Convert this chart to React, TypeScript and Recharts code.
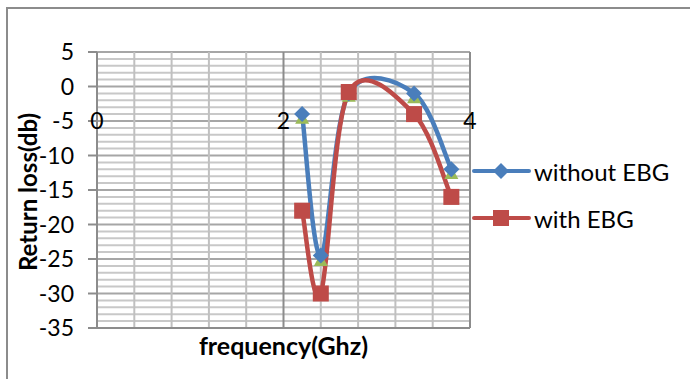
import React from 'react';
import { LineChart, Line, XAxis, YAxis, ReferenceLine, ReferenceDot, Legend } from 'recharts';

const frequency = [2.2, 2.4, 2.7, 3.4, 3.8];
const withoutEBG = [-4, -24.5, -1, -1, -12];
const withEBG = [-18, -30, -0.8, -4, -16];
const hiddenSeries = [-4.6, -25.2, -1.4, -1.6, -12.6];

const yTicks = [-35, -30, -25, -20, -15, -10, -5, 0, 5];
const xTickLabels = [0, 2, 4];
const yMinor = Array.from({ length: 41 }, (_, i) => -35 + i);
const xMinor = [0, 0.4, 0.8, 1.2, 1.6, 2, 2.4, 2.8, 3.2, 3.6, 4];

const data = frequency.map((f, i) => ({ f, without: withoutEBG[i], with: withEBG[i], hidden: hiddenSeries[i] }));

const BLUE = '#4A7EBB';
const RED = '#BE4B48';
const GREEN = '#9BBB59';
const FONT = 'Lato, "Open Sans", sans-serif';

function excelCurve(context: any) {
  let pts: number[][] = [];
  return {
    areaStart() {},
    areaEnd() {},
    lineStart() { pts = []; },
    point(x: number, y: number) { pts.push([+x, +y]); },
    lineEnd() {
      const n = pts.length;
      if (!n) return;
      context.moveTo(pts[0][0], pts[0][1]);
      if (n === 1) return;
      for (let i = 0; i < n - 1; i++) {
        const p0 = pts[Math.max(i - 1, 0)];
        const p1 = pts[i];
        const p2 = pts[i + 1];
        const p3 = pts[Math.min(i + 2, n - 1)];
        context.bezierCurveTo(
          p1[0] + (p2[0] - p0[0]) / 6,
          p1[1] + (p2[1] - p0[1]) / 6,
          p2[0] - (p3[0] - p1[0]) / 6,
          p2[1] - (p3[1] - p1[1]) / 6,
          p2[0],
          p2[1]
        );
      }
    },
  };
}

const Diamond = (props: any) => {
  const { cx, cy } = props;
  if (cx == null || cy == null) return null;
  const s = 8;
  return <path key={`d${cx}`} d={`M${cx},${cy - s}L${cx + s},${cy}L${cx},${cy + s}L${cx - s},${cy}Z`} fill={BLUE} />;
};
const Square = (props: any) => {
  const { cx, cy } = props;
  if (cx == null || cy == null) return null;
  const s = 8;
  return <rect key={`s${cx}`} x={cx - s} y={cy - s} width={2 * s} height={2 * s} fill={RED} />;
};
const Triangle = (props: any) => {
  const { cx, cy } = props;
  if (cx == null || cy == null) return null;
  const s = 7;
  return <path key={`t${cx}`} d={`M${cx},${cy - s}L${cx + s},${cy + s * 0.8}L${cx - s},${cy + s * 0.8}Z`} fill={GREEN} />;
};

const LegendContent = () => {
  const items = [
    { label: 'without EBG', color: BLUE, marker: 'd' },
    { label: 'with EBG', color: RED, marker: 's' },
  ];
  return (
    <svg width={215} height={80} style={{ display: 'block' }}>
      {items.map((it, i) => {
        const y = 14 + i * 47;
        return (
          <g key={it.label}>
            <line x1={2} y1={y} x2={57} y2={y} stroke={it.color} strokeWidth={4} strokeLinecap="round" />
            {it.marker === 'd' ? (
              <path d={`M29,${y - 8}L37,${y}L29,${y + 8}L21,${y}Z`} fill={it.color} />
            ) : (
              <rect x={21} y={y - 8} width={16} height={16} fill={it.color} />
            )}
            <text x={62} y={y} dominantBaseline="central" fontFamily={FONT} fontSize={24} fill="#000">
              {it.label}
            </text>
          </g>
        );
      })}
    </svg>
  );
};

export default function App() {
  return (
    <div style={{ position: 'absolute', left: 0, top: 0, width: 690, height: 379, background: '#fff', overflow: 'hidden' }}>
      <div style={{ position: 'absolute', left: 6, top: 7, width: 700, height: 400, border: '2px solid #8c8c8c', boxSizing: 'border-box' }} />
      <LineChart width={690} height={379} data={data} margin={{ top: 52, right: 5, left: 0, bottom: 0 }}>
        {yMinor.map((v) => (
          <ReferenceLine key={`h${v}`} y={v} stroke={v % 5 === 0 ? '#a6a6a6' : '#c8c8c8'} strokeWidth={2} />
        ))}
        {xMinor.map((v) => (
          <ReferenceLine key={`v${v}`} x={v} stroke={v === 2 || v === 0 || v === 4 ? '#8c8c8c' : '#c0c0c0'} strokeWidth={2} />
        ))}
        <XAxis
          type="number"
          dataKey="f"
          domain={[0, 4]}
          ticks={xTickLabels}
          tick={false}
          tickLine={false}
          axisLine={{ stroke: '#8c8c8c', strokeWidth: 2 }}
          height={51}
          label={{ value: 'frequency(Ghz)', position: 'insideTop', offset: 9, fontFamily: FONT, fontSize: 25, fontWeight: 700, fill: '#000' }}
        />
        <YAxis
          type="number"
          domain={[-35, 5]}
          ticks={yTicks}
          width={97}
          interval={0}
          tickSize={9}
          tickLine={{ stroke: '#8c8c8c', strokeWidth: 2 }}
          axisLine={{ stroke: '#8c8c8c', strokeWidth: 2 }}
          tick={{ fontFamily: FONT, fontSize: 23, fill: '#000' }}
          tickMargin={14}
          label={{
            content: (p: any) => {
              const vb = p.viewBox || {};
              const cx = 27;
              const cy = (vb.y || 0) + (vb.height || 0) / 2 + 2;
              return (
                <text x={cx} y={cy} transform={`rotate(-90 ${cx} ${cy})`} textAnchor="middle" dominantBaseline="central" fontFamily={FONT} fontSize={24} fontWeight={700} fill="#000">
                  Return loss(db)
                </text>
              );
            },
          }}
        />
        {xTickLabels.map((t) => (
          <ReferenceDot
            key={`xl${t}`}
            x={t}
            y={-5}
            r={0}
            fill="none"
            stroke="none"
            label={{ value: String(t), position: 'center', fontFamily: FONT, fontSize: 23, fill: '#000' }}
          />
        ))}
        <Legend
          verticalAlign="middle"
          align="right"
          layout="vertical"
          width={215}
          height={80}
          wrapperStyle={{ left: 472, top: 157, right: 'auto', width: 215, height: 80 }}
          content={<LegendContent />}
        />
        <Line dataKey="hidden" stroke="none" legendType="none" dot={<Triangle />} activeDot={false} isAnimationActive={false} />
        <Line dataKey="without" type={excelCurve as any} stroke={BLUE} strokeWidth={4.5} dot={<Diamond />} activeDot={false} isAnimationActive={false} />
        <Line dataKey="with" type={excelCurve as any} stroke={RED} strokeWidth={4.5} dot={<Square />} activeDot={false} isAnimationActive={false} />
      </LineChart>
    </div>
  );
}
